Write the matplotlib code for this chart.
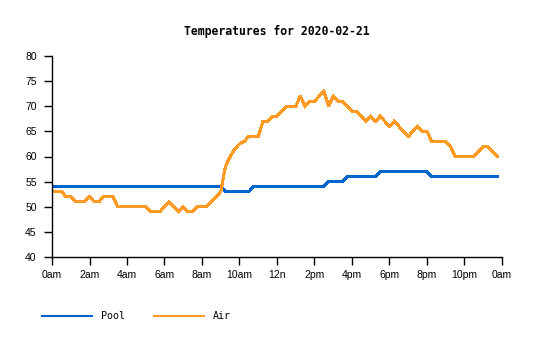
import numpy as np
import matplotlib
matplotlib.use("Agg")
import matplotlib.pyplot as plt

# Readings every 15 minutes, 0:00 .. 23:45
hours = np.arange(0, 24, 0.25)

pool = [54, 54, 54, 54, 54, 54, 54, 54, 54, 54, 54, 54,
        54, 54, 54, 54, 54, 54, 54, 54, 54, 54, 54, 54,
        54, 54, 54, 54, 54, 54, 54, 54, 54, 54, 54, 54,
        54, 53, 53, 53, 53, 53, 53, 54, 54, 54, 54, 54,
        54, 54, 54, 54, 54, 54, 54, 54, 54, 54, 54, 55,
        55, 55, 55, 56, 56, 56, 56, 56, 56, 56, 57, 57,
        57, 57, 57, 57, 57, 57, 57, 57, 57, 56, 56, 56,
        56, 56, 56, 56, 56, 56, 56, 56, 56, 56, 56, 56]

air = [53, 53, 53, 52, 52, 51, 51, 51, 52, 51, 51, 52,
       52, 52, 50, 50, 50, 50, 50, 50, 50, 49, 49, 49,
       50, 51, 50, 49, 50, 49, 49, 50, 50, 50, 51, 52,
       53, 58, 60, 61.5, 62.5, 63, 64, 64, 64, 67, 67, 68,
       68, 69, 70, 70, 70, 72, 70, 71, 71, 72, 73, 70,
       72, 71, 71, 70, 69, 69, 68, 67, 68, 67, 68, 67,
       66, 67, 66, 65, 64, 65, 66, 65, 65, 63, 63, 63,
       63, 62, 60, 60, 60, 60, 60, 61, 62, 62, 61, 60]

tick_hours = list(range(0, 25, 2))
tick_labels = ["0am", "2am", "4am", "6am", "8am", "10am", "12n",
               "2pm", "4pm", "6pm", "8pm", "10pm", "0am"]

W, H = 535, 340
fig = plt.figure(figsize=(W / 100, H / 100), dpi=100)
ax = fig.add_axes([52 / W, 83 / H, 450 / W, 201 / H])

ax.plot(hours, pool, color="#0066cc", lw=1.5, label="Pool",
        solid_joinstyle="miter", antialiased=False)
ax.plot(hours, air, color="#ff9a24", lw=1.5, label="Air",
        solid_joinstyle="miter", antialiased=False)

ax.set_xlim(0, 24)
ax.set_ylim(40, 80)
ax.set_xticks(tick_hours)
ax.set_xticklabels(tick_labels)
ax.set_yticks(range(40, 81, 5))

for side in ["top", "right"]:
    ax.spines[side].set_visible(False)
for side in ["left", "bottom"]:
    ax.spines[side].set_linewidth(1.0)

ax.tick_params(axis="both", direction="out", length=6, width=1.0,
               labelsize=7.5)
ax.tick_params(axis="y", pad=5)
ax.tick_params(axis="x", pad=3)
for lbl in ax.get_xticklabels() + ax.get_yticklabels():
    lbl.set_family("Liberation Sans")

fig.text(277 / W, 1 - 31 / H, "Temperatures for 2020-02-21",
         ha="center", va="center", family="DejaVu Sans Mono",
         fontweight="bold", fontsize=8.3)

fig.legend(loc="center left", bbox_to_anchor=(33 / W, 1 - 316 / H),
           ncol=2, frameon=False, handlelength=5.0, handletextpad=0.9,
           columnspacing=2.9, prop={"family": "DejaVu Sans Mono", "size": 7.2})

fig.savefig("out.png", dpi=100)
